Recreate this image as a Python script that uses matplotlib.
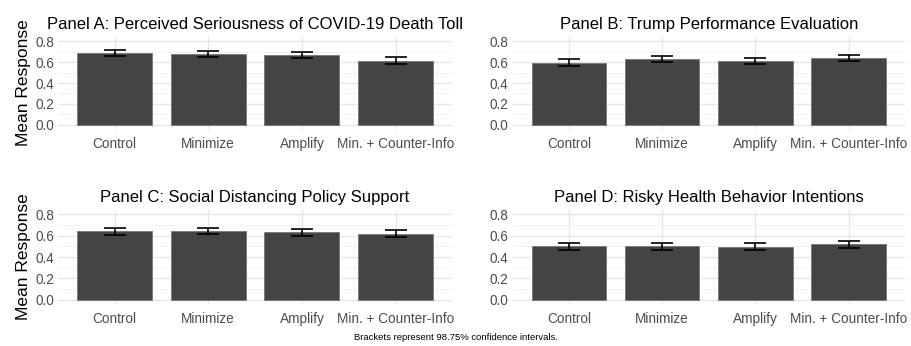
import matplotlib.pyplot as plt
import numpy as np

plt.rcParams['font.family'] = ['Liberation Sans', 'DejaVu Sans']

# Conditions and panel data
conditions = ['Control', 'Minimize', 'Amplify', 'Min. + Counter-Info']
titles = ['Panel A: Perceived Seriousness of COVID-19 Death Toll',
          'Panel B: Trump Performance Evaluation',
          'Panel C: Social Distancing Policy Support',
          'Panel D: Risky Health Behavior Intentions']
means_a = [0.690, 0.675, 0.667, 0.615]
err_a = [0.030, 0.030, 0.030, 0.030]
means_b = [0.595, 0.630, 0.610, 0.640]
err_b = [0.032, 0.032, 0.032, 0.032]
means_c = [0.640, 0.645, 0.630, 0.620]
err_c = [0.030, 0.030, 0.030, 0.030]
means_d = [0.500, 0.502, 0.498, 0.520]
err_d = [0.034, 0.034, 0.034, 0.034]
caption = 'Brackets represent 98.75% confidence intervals.'

panels = [(means_a, err_a), (means_b, err_b), (means_c, err_c), (means_d, err_d)]
positions = [
    [0.064, 0.627, 0.432, 0.266],
    [0.563, 0.627, 0.430, 0.266],
    [0.064, 0.121, 0.432, 0.272],
    [0.563, 0.121, 0.430, 0.272],
]

fig = plt.figure(figsize=(9.11, 3.46), dpi=100)
x = np.arange(len(conditions))

for i, (pos, (m, e), t) in enumerate(zip(positions, panels, titles)):
    ax = fig.add_axes(pos)
    ax.bar(x, m, width=0.8, color='#444444', edgecolor='#777777', linewidth=0.6, zorder=2)
    ax.errorbar(x, m, yerr=e, fmt='none', ecolor='black', elinewidth=1.2,
                capsize=8, capthick=1.2, zorder=3)
    ax.set_ylim(-0.04, 0.84)
    ax.set_xlim(-0.6, 3.6)
    ax.set_yticks([0.0, 0.2, 0.4, 0.6, 0.8])
    ax.set_yticks([0.1, 0.3, 0.5, 0.7], minor=True)
    ax.set_xticks(x)
    ax.set_xticklabels(conditions)
    ax.grid(True, which='major', color='#E5E5E5', linewidth=0.9, zorder=0)
    ax.grid(True, which='minor', axis='y', color='#F0F0F0', linewidth=0.6, zorder=0)
    ax.set_axisbelow(True)
    for s in ax.spines.values():
        s.set_visible(False)
    ax.tick_params(which='both', length=0, labelsize=9.8, labelcolor='#4D4D4D', pad=3)
    ax.tick_params(axis='x', pad=6)
    ax.set_title(t, fontsize=12, pad=6)
    if i % 2 == 0:
        ax.set_ylabel('Mean Response', fontsize=12.5, labelpad=3)

fig.text(0.5, 0.012, caption, ha='center', va='bottom', fontsize=6.8)

plt.savefig('out.png', dpi=100)
